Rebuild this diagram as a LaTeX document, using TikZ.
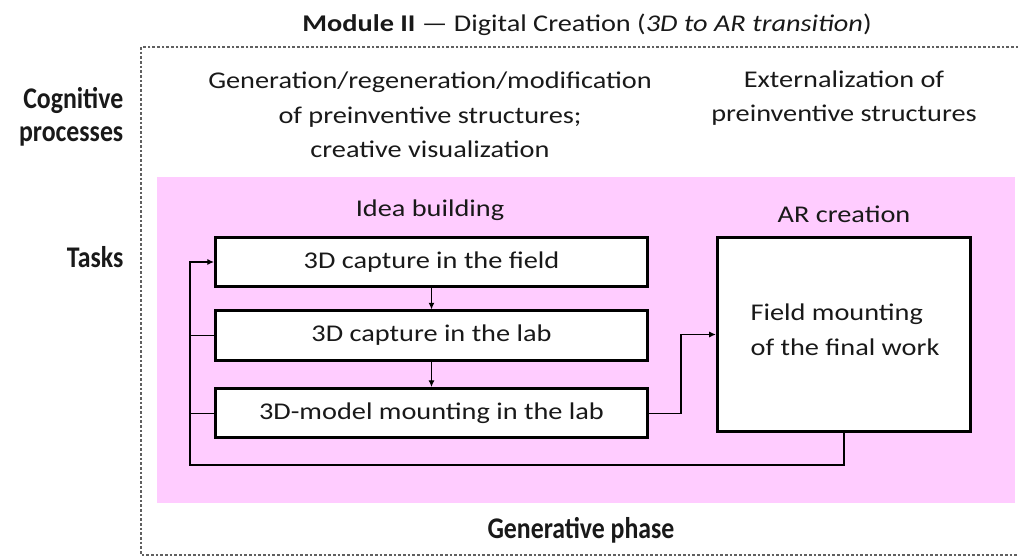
\documentclass[tikz,border=0pt]{standalone}
\usepackage{fontspec}
\setmainfont{Carlito}[FakeStretch=1.18]
\newfontfamily\headfont{Carlito}[FakeStretch=0.86]
\usetikzlibrary{arrows.meta,positioning}

\definecolor{phasepink}{HTML}{FFCCFF}
\definecolor{framegray}{HTML}{606060}

\begin{document}
\begin{tikzpicture}[
    x=0.75pt, y=-0.75pt,
    node distance=16pt,
    every node/.style={font=\fontsize{18}{26}\selectfont, text=black!90},
    head/.style={font=\headfont\bfseries\fontsize{22.5}{25}\selectfont},
    task/.style={rectangle, draw, line width=2.2pt, fill=white, minimum width=324pt, minimum height=37pt},
    link/.style={-{Latex[length=5pt,width=4.5pt]}, line width=0.9pt},
    line/.style={line width=0.9pt}
]
\useasboundingbox (0,0) rectangle (1018,559);

% Frame and phase band
\draw[framegray, line width=1pt, dash pattern=on 2pt off 1.5pt] (141,47) rectangle (1040,555);
\fill[phasepink] (157,177) rectangle (1015,503);

% Headings
\node (title) at (587,25) {\textbf{Module II} --- Digital Creation (\textit{3D to AR transition})};
\node[head, align=right, anchor=east] (cog) at (128,117) {Cognitive\\processes};
\node[head, anchor=east] (tasks) at (128,257) {Tasks};
\node[head] (phase) at (581,530) {Generative phase};

% Cognitive processes
\node[align=center] (gen) at (430,115) {Generation/regeneration/modification\\of preinventive structures;\\creative visualization};
\node[align=center] (ext) at (844,98) {Externalization of\\preinventive structures};

% Tasks
\node (idea) at (430,210) {Idea building};
\node[task] (field) at (431.5,262) {3D capture in the field};
\node[task, below=of field] (lab) {3D capture in the lab};
\node[task, below=19pt of lab] (model) {3D-model mounting in the lab};
\node[rectangle, draw, line width=2.2pt, fill=white, minimum width=190pt, minimum height=146pt] (ar) at (844,334.5) {};
\node[align=left] (arwork) at (845,330) {Field mounting\\of the final work};
\node[above=6pt of ar] (arlabel) {AR creation};

% Arrows
\coordinate (back) at (190,465);
\draw[link] (field) -- (lab);
\draw[link] (lab) -- (model);
\draw[link] (model.east) -- ++(32,0) |- (ar.west);
\draw[link] (ar.south) |- (back) |- (field.west);
\draw[line] (lab.west) -- (lab.west -| back);
\draw[line] (model.west) -- (model.west -| back);

\end{tikzpicture}
\end{document}
